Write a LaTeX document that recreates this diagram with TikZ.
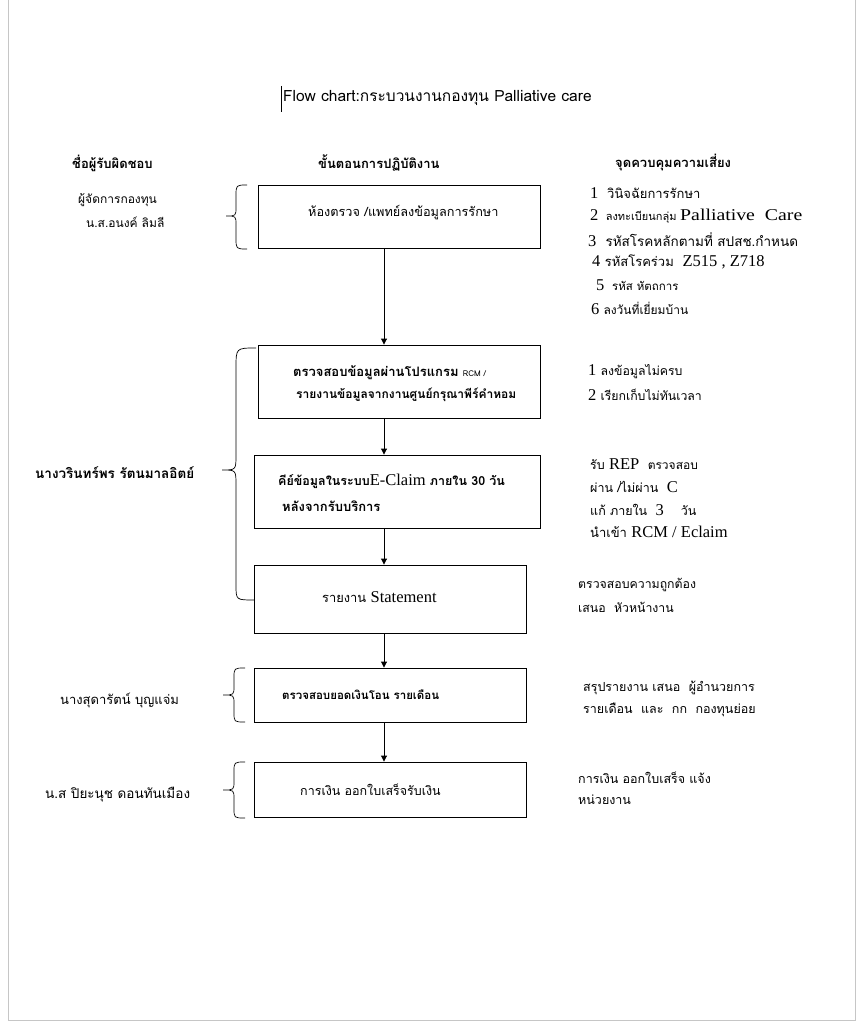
\documentclass[tikz,border=0pt]{standalone}
\usepackage{fontspec}
\setmainfont{Loma}[Script=Thai]
\newfontfamily\lat{Liberation Serif}
\newfontfamily\latw{Liberation Serif}[FakeStretch=1.2]
\newcommand\latS{\lat\fontsize{16.5}{18}\selectfont}
\newcommand\thS[1]{\fontsize{#1}{#1}\selectfont}
\usetikzlibrary{arrows.meta}
\begin{document}
\begin{tikzpicture}[x=1pt,y=-1pt,
 box/.style={draw,line width=0.9pt,inner sep=0},
 txt/.style={anchor=west,inner sep=0,font=\fontsize{13}{15}\selectfont},
 hd/.style={anchor=west,inner sep=0,font=\fontsize{13}{15}\selectfont\bfseries},
 arr/.style={-{Triangle[length=6pt,width=6pt]},line width=0.9pt},
 brc/.style={line width=0.7pt}]
\useasboundingbox (0,0) rectangle (863,1024);
\fill[white] (0,0) rectangle (863,1024);
\draw[gray!45] (8,0) -- (8,1020) -- (855,1020) -- (855,0);
% cursor mark
\draw[line width=0.6pt] (281,86) -- (281,112);
\node[anchor=west,inner sep=0,font=\fontsize{15.5}{17}\selectfont] (title) at (283,98) {Flow chart:กระบวนงานกองทุน Palliative care};
% headers
\node[hd] (h1) at (72,163) {ชื่อผู้รับผิดชอบ};
\node[hd] (h2) at (318,163) {ขั้นตอนการปฏิบัติงาน};
\node[hd] (h3) at (615,163) {จุดควบคุมความเสี่ยง};
% boxes
\node[box,minimum width=282pt,minimum height=63pt] (b1) at (399,216.5) {};
\node[box,minimum width=282pt,minimum height=73pt] (b2) at (399,381.5) {};
\node[box,minimum width=286pt,minimum height=73pt] (b3) at (397,491.5) {};
\node[box,minimum width=272pt,minimum height=68pt] (b4) at (390,599) {};
\node[box,minimum width=272pt,minimum height=54pt] (b5) at (390,695) {};
\node[box,minimum width=272pt,minimum height=55pt] (b6) at (390,789.5) {};
\coordinate (ax) at (384,0);
\draw[arr] (b1.south -| ax) -- (b2.north -| ax);
\draw[arr] (b2.south -| ax) -- (b3.north -| ax);
\draw[arr] (b3.south -| ax) -- (b4.north -| ax);
\draw[arr] (b4.south -| ax) -- (b5.north -| ax);
\draw[arr] (b5.south -| ax) -- (b6.north -| ax);
% box texts
\node[txt,font=\thS{12.7}] (t1) at (308,213) {ห้องตรวจ /แพทย์ลงข้อมูลการรักษา};
\node[txt,font=\thS{13}\bfseries] (t2a) at (293,373) {ตรวจสอบข้อมูลผ่านโปรแกรม {\mdseries\fontsize{8}{9}\selectfont RCM /}};
\node[txt,font=\thS{12}\bfseries] (t2b) at (296,395) {รายงานข้อมูลจากงานศูนย์กรุณาพีร์คำหอม};
\node[txt,font=\thS{12.5}\bfseries] (t3a) at (278,481) {คีย์ข้อมูลในระบบ{\mdseries\latS E-Claim} ภายใน 30 วัน};
\node[txt,font=\thS{13}\bfseries] (t3b) at (282,506) {หลังจากรับบริการ};
\node[txt,font=\thS{12.9}] (t4) at (322,597) {รายงาน {\latS Statement}};
\node[txt,font=\thS{11.5}\bfseries] (t5) at (282,695) {ตรวจสอบยอดเงินโอน รายเดือน};
\node[txt,font=\thS{12.5}] (t6) at (300,790) {การเงิน ออกใบเสร็จรับเงิน};
% left names
\node[txt,font=\thS{12}] (l1a) at (78,200) {ผู้จัดการกองทุน};
\node[txt,font=\thS{12}] (l1b) at (86,222) {น.ส.อนงค์ ลิมลี};
\node[txt,font=\thS{13.5}\bfseries] (l2) at (35,473) {นางวรินทร์พร รัตนมาลอิตย์};
\node[txt,font=\thS{13}] (l3) at (60,700) {นางสุดารัตน์ บุญแจ่ม};
\node[txt,font=\thS{13.5}] (l4) at (45,795) {น.ส ปิยะนุช ดอนทันเมือง};
% braces
\draw[brc] (247,185) .. controls (236,185) .. (236,196) -- (236,207) .. controls (236,216) .. (226,216) .. controls (236,216) .. (236,225) -- (236,238) .. controls (236,249) .. (247,249);
\draw[brc] (256,348) .. controls (236,348) .. (236,368) -- (236,455) .. controls (236,470) .. (222,470) .. controls (236,470) .. (236,485) -- (236,585) .. controls (236,600) .. (254,600);
\draw[brc] (245,668) .. controls (234,668) .. (234,678) -- (234,686) .. controls (234,695) .. (223,695) .. controls (234,695) .. (234,704) -- (234,712) .. controls (234,722) .. (245,722);
\draw[brc] (245,762) .. controls (234,762) .. (234,772) -- (234,781) .. controls (234,790) .. (223,790) .. controls (234,790) .. (234,799) -- (234,808) .. controls (234,818) .. (245,818);
% risk controls
\node[txt] (r1a) at (590,193) {{\latS 1}\ \ วินิจฉัยการรักษา};
\node[txt,font=\thS{11}] (r1b) at (590,216) {{\latS 2}\ \ ลงทะเบียนกลุ่ม {\latw\fontsize{16.5}{18}\selectfont Palliative\ \ Care}};
\node[txt,font=\thS{13.5}] (r1c) at (588,240) {{\latS 3}\ \ รหัสโรคหลักตามที่ สปสช.กำหนด};
\node[txt] (r1d) at (592,262) {{\latS 4} รหัสโรคร่วม\ \ {\latS Z515 , Z718}};
\node[txt,font=\thS{11.5}] (r1e) at (596,285) {{\latS 5}\ \ รหัส หัตถการ};
\node[txt,font=\thS{12}] (r1f) at (591,308) {{\latS 6} ลงวันที่เยี่ยมบ้าน};
\node[txt,font=\thS{12.3}] (r2a) at (588,372) {{\latS 1} ลงข้อมูลไม่ครบ};
\node[txt,font=\thS{12.3}] (r2b) at (588,395) {{\latS 2} เรียกเก็บไม่ทันเวลา};
\node[txt,font=\thS{12.5}] (r3a) at (590,464) {รับ {\latS REP}\ \ {\thS{12}ตรวจสอบ}};
\node[txt,font=\thS{12.5}] (r3b) at (590,487) {ผ่าน /ไม่ผ่าน\ \ {\latS C}};
\node[txt,font=\thS{12.5}] (r3c) at (590,510) {แก้ ภายใน\ \ {\latS 3}\ \ \ \ วัน};
\node[txt,font=\thS{13}] (r3d) at (590,532) {นำเข้า {\latS RCM / Eclaim}};
\node[txt,font=\thS{12.3}] (r4a) at (578,585) {ตรวจสอบความถูกต้อง};
\node[txt,font=\thS{12.3}] (r4b) at (578,607) {เสนอ\ \ หัวหน้างาน};
\node[txt,font=\thS{12.5}] (r5a) at (583,688) {สรุปรายงาน เสนอ\ \ ผู้อำนวยการ};
\node[txt,font=\thS{12.5}] (r5b) at (583,710) {รายเดือน\ \ และ\ \ กก\ \ กองทุนย่อย};
\node[txt,font=\thS{12.5}] (r6a) at (578,778) {การเงิน ออกใบเสร็จ แจ้ง};
\node[txt,font=\thS{12.5}] (r6b) at (578,800) {หน่วยงาน};
\end{tikzpicture}
\end{document}
